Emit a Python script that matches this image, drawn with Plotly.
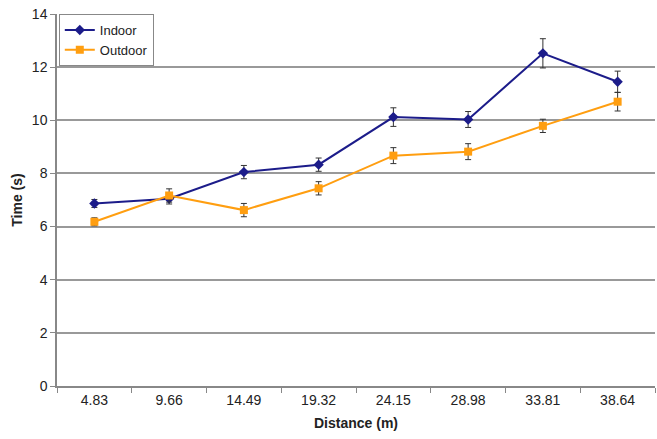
import plotly.graph_objects as go

distances = ["4.83", "9.66", "14.49", "19.32", "24.15", "28.98", "33.81", "38.64"]
indoor = [6.87, 7.05, 8.05, 8.33, 10.12, 10.03, 12.52, 11.45]
indoor_err = [0.15, 0.2, 0.25, 0.25, 0.35, 0.3, 0.55, 0.4]
outdoor = [6.18, 7.17, 6.62, 7.44, 8.67, 8.82, 9.79, 10.7]
outdoor_err = [0.15, 0.25, 0.25, 0.25, 0.3, 0.3, 0.25, 0.35]

font = "Liberation Sans, Arial, sans-serif"

fig = go.Figure()
fig.add_trace(go.Scatter(
    x=distances, y=indoor, name="Indoor", mode="lines+markers",
    line=dict(color="#1c1c8a", width=2),
    marker=dict(symbol="diamond", size=8, color="#1c1c8a"),
    error_y=dict(type="data", array=indoor_err, color="#333333", thickness=1, width=3),
))
fig.add_trace(go.Scatter(
    x=distances, y=outdoor, name="Outdoor", mode="lines+markers",
    line=dict(color="#ff9e10", width=2),
    marker=dict(symbol="square", size=8, color="#ff9e10"),
    error_y=dict(type="data", array=outdoor_err, color="#333333", thickness=1, width=3),
))

fig.update_layout(
    width=657, height=439,
    margin=dict(l=57, r=2, t=14, b=53),
    paper_bgcolor="white", plot_bgcolor="white",
    font=dict(family=font, size=13, color="#222222"),
    showlegend=True,
    legend=dict(x=0.003, y=1.0, xanchor="left", yanchor="top",
                bordercolor="#888888", borderwidth=1, bgcolor="white",
                font=dict(size=13), tracegroupgap=0, itemwidth=30),
    xaxis=dict(
        type="category", range=[-0.5, 7.5], tickson="boundaries",
        ticks="outside", ticklen=5, tickcolor="#888888",
        showline=True, linecolor="#888888", linewidth=1.5,
        showgrid=False, zeroline=False,
        tickfont=dict(size=14),
        title=dict(text="<b>Distance (m)</b>", font=dict(size=14), standoff=12),
    ),
    yaxis=dict(
        range=[0, 14], dtick=2, ticks="outside", ticklen=5, tickcolor="#888888",
        showline=True, linecolor="#888888", linewidth=1.5,
        showgrid=True, gridcolor="#999999", gridwidth=1.5, zeroline=False,
        tickfont=dict(size=14),
        title=dict(text="<b>Time (s)</b>", font=dict(size=14), standoff=6),
    ),
)

fig.write_html("out.html")
